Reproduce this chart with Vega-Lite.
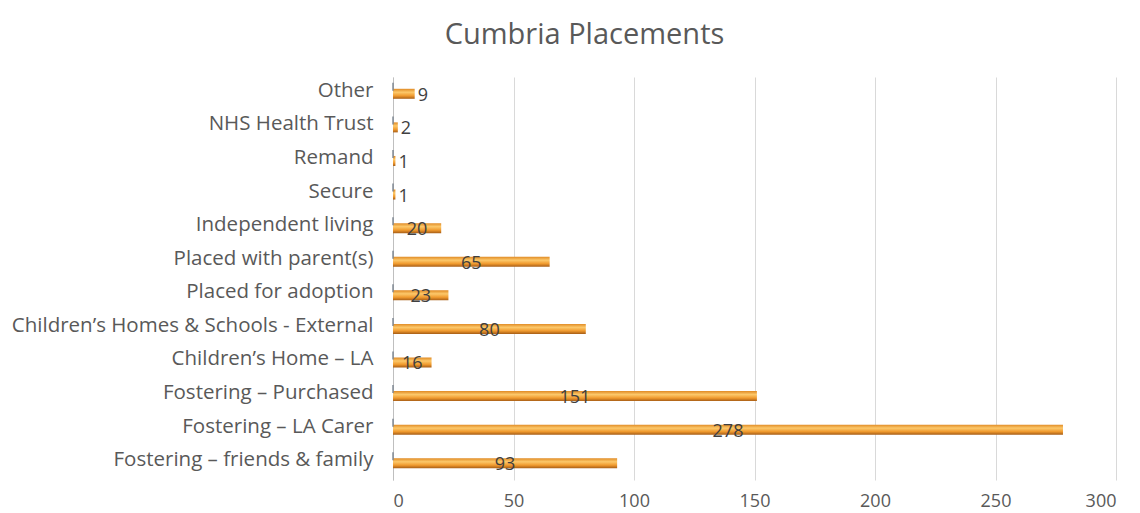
{
  "$schema": "https://vega.github.io/schema/vega-lite/v6.json",
  "width": 723,
  "height": 403,
  "autosize": {"type": "none"},
  "padding": {"left": 393, "top": 77, "right": 24, "bottom": 33},
  "background": "white",
  "view": {"stroke": null},
  "title": {
    "text": "Cumbria Placements",
    "font": "Open Sans",
    "fontSize": 29,
    "fontWeight": "normal",
    "color": "#595959",
    "anchor": "middle",
    "dx": -170,
    "offset": 27
  },
  "data": {
    "values": [
      {"category": "Other ", "value": 9},
      {"category": "NHS Health Trust", "value": 2},
      {"category": "Remand", "value": 1},
      {"category": "Secure", "value": 1},
      {"category": "Independent living", "value": 20},
      {"category": "Placed with parent(s)", "value": 65},
      {"category": "Placed for adoption", "value": 23},
      {"category": "Children’s Homes & Schools - External", "value": 80},
      {"category": "Children’s Home – LA", "value": 16},
      {"category": "Fostering – Purchased", "value": 151},
      {"category": "Fostering – LA Carer", "value": 278},
      {"category": "Fostering – friends & family", "value": 93}
    ]
  },
  "encoding": {
    "y": {
      "field": "category",
      "type": "nominal",
      "sort": null,
      "axis": {
        "title": null,
        "labelFont": "Open Sans",
        "labelFontSize": 20.5,
        "labelColor": "#595959",
        "labelPadding": 20,
        "labelOffset": -3,
        "ticks": false,
        "domain": true,
        "domainColor": "#bfbfbf",
        "labelLimit": 400
      }
    }
  },
  "layer": [
    {
      "mark": {
        "type": "bar",
        "size": 10,
        "color": {
          "gradient": "linear",
          "x1": 0, "y1": 0, "x2": 0, "y2": 1,
          "stops": [
            {"offset": 0, "color": "#e08a24"},
            {"offset": 0.35, "color": "#fcc86a"},
            {"offset": 0.7, "color": "#f09a2e"},
            {"offset": 1, "color": "#a85e16"}
          ]
        }
      },
      "encoding": {
        "x": {
          "field": "value",
          "type": "quantitative",
          "scale": {"domain": [0, 300], "nice": false},
          "axis": {
            "title": null,
            "values": [0, 50, 100, 150, 200, 250, 300],
            "labelFont": "Open Sans",
            "labelFontSize": 18,
            "labelColor": "#595959",
            "labelPadding": 12,
            "ticks": false,
            "domain": false,
            "grid": true,
            "gridColor": "#d9d9d9"
          }
        }
      }
    },
    {
      "mark": {"type": "tick", "orient": "vertical", "size": 8, "thickness": 2, "color": "#7a8590", "yOffset": -7},
      "encoding": {
        "x": {"datum": 0, "type": "quantitative"}
      }
    },
    {
      "transform": [
        {"filter": "datum.value >= 10"},
        {"calculate": "datum.value / 2", "as": "labelPos"}
      ],
      "mark": {
        "type": "text",
        "font": "Open Sans",
        "fontSize": 18,
        "color": "#404040",
        "align": "center",
        "baseline": "middle",
        "dy": 2
      },
      "encoding": {
        "x": {"field": "labelPos", "type": "quantitative"},
        "text": {"field": "value", "type": "quantitative"}
      }
    },
    {
      "transform": [{"filter": "datum.value < 10"}],
      "mark": {
        "type": "text",
        "font": "Open Sans",
        "fontSize": 18,
        "color": "#404040",
        "align": "left",
        "baseline": "middle",
        "dx": 3,
        "dy": 2
      },
      "encoding": {
        "x": {"field": "value", "type": "quantitative"},
        "text": {"field": "value", "type": "quantitative"}
      }
    }
  ]
}
